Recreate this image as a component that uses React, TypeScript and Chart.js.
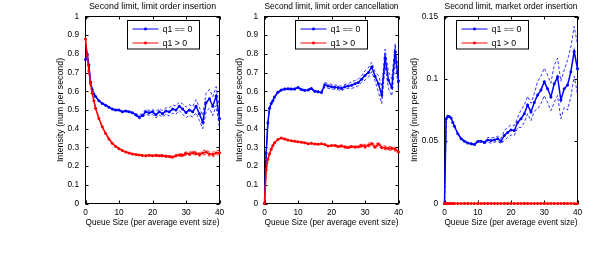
import React, { useEffect, useRef } from "react";
import { Chart, registerables } from "chart.js";

Chart.register(...registerables);

// ---------- data ----------
const QUEUE_SIZE = [0, 0.5, 1, 1.5, 2, 2.5, 3, 4, 5, 6, 7, 8, 9, 10, 11, 12, 13, 14, 15, 16, 17, 18, 19, 20, 21, 22, 23, 24, 25, 26, 27, 28, 29, 30, 31, 32, 33, 34, 35, 36, 37, 38, 39, 40];

const LEGEND_LABELS = ["q1 == 0", "q1 > 0"];

// Panel 1: limit order insertion
const INS_Q1_ZERO = [0.77, 0.80, 0.74, 0.65, 0.61, 0.585, 0.572,
  0.55, 0.535, 0.525, 0.515, 0.505, 0.50, 0.50,
  0.49, 0.495, 0.49, 0.485, 0.475, 0.462, 0.47, 0.49, 0.485, 0.49,
  0.475, 0.49, 0.48, 0.495, 0.49, 0.505, 0.50, 0.52, 0.505, 0.487,
  0.50, 0.49, 0.52, 0.48, 0.435, 0.54, 0.56, 0.52, 0.575, 0.455];
const INS_Q1_ZERO_CI = [0.003, 0.003, 0.003, 0.003, 0.003, 0.003, 0.003,
  0.003, 0.003, 0.003, 0.003, 0.003, 0.003, 0.003,
  0.003, 0.003, 0.003, 0.003, 0.006, 0.01, 0.01, 0.013, 0.013, 0.013,
  0.017, 0.017, 0.017, 0.017, 0.022, 0.022, 0.022, 0.022, 0.028, 0.028,
  0.028, 0.028, 0.035, 0.035, 0.035, 0.05, 0.05, 0.05, 0.05, 0.05];
const INS_Q1_POS = [0.88, 0.79, 0.71, 0.64, 0.59, 0.55, 0.51,
  0.455, 0.41, 0.375, 0.345, 0.322, 0.305, 0.293,
  0.283, 0.276, 0.27, 0.265, 0.262, 0.26, 0.257, 0.256, 0.258, 0.256,
  0.258, 0.255, 0.256, 0.253, 0.252, 0.248, 0.255, 0.26, 0.258, 0.268,
  0.265, 0.272, 0.268, 0.262, 0.27, 0.275, 0.265, 0.262, 0.27, 0.272];
const INS_Q1_POS_CI = [0.002, 0.002, 0.002, 0.002, 0.002, 0.002, 0.002,
  0.002, 0.002, 0.002, 0.002, 0.002, 0.002, 0.002,
  0.002, 0.002, 0.002, 0.002, 0.002, 0.002, 0.002, 0.002, 0.002, 0.002,
  0.005, 0.005, 0.005, 0.005, 0.005, 0.005, 0.005, 0.005, 0.009, 0.009,
  0.009, 0.009, 0.009, 0.009, 0.012, 0.012, 0.012, 0.012, 0.012, 0.012];

// Panel 2: limit order cancellation
const CAN_Q1_ZERO = [0, 0.27, 0.43, 0.51, 0.535, 0.55, 0.57,
  0.595, 0.607, 0.612, 0.613, 0.612, 0.612, 0.62,
  0.61, 0.605, 0.607, 0.615, 0.60, 0.597, 0.594, 0.635, 0.628, 0.625,
  0.622, 0.62, 0.615, 0.625, 0.628, 0.633, 0.64, 0.647, 0.665, 0.685,
  0.70, 0.73, 0.68, 0.64, 0.58, 0.78, 0.66, 0.62, 0.81, 0.655];
const CAN_Q1_ZERO_CI = [0.004, 0.004, 0.004, 0.004, 0.004, 0.004, 0.004,
  0.004, 0.004, 0.004, 0.004, 0.004, 0.004, 0.004,
  0.004, 0.004, 0.004, 0.004, 0.004, 0.004, 0.004, 0.012, 0.012, 0.012,
  0.012, 0.012, 0.012, 0.012, 0.012, 0.018, 0.018, 0.018, 0.018, 0.025,
  0.025, 0.025, 0.025, 0.045, 0.045, 0.045, 0.045, 0.045, 0.045, 0.045];
const CAN_Q1_POS = [0, 0.18, 0.237, 0.265, 0.29, 0.31, 0.325,
  0.342, 0.35, 0.345, 0.34, 0.335, 0.333, 0.33,
  0.328, 0.325, 0.32, 0.322, 0.318, 0.317, 0.32, 0.315, 0.308, 0.31,
  0.31, 0.305, 0.308, 0.302, 0.30, 0.305, 0.302, 0.303, 0.31, 0.305,
  0.312, 0.32, 0.302, 0.318, 0.30, 0.298, 0.294, 0.295, 0.29, 0.276];
const CAN_Q1_POS_CI = [0.002, 0.002, 0.002, 0.002, 0.002, 0.002, 0.002,
  0.002, 0.002, 0.002, 0.002, 0.002, 0.002, 0.002,
  0.002, 0.002, 0.002, 0.002, 0.002, 0.002, 0.002, 0.002, 0.002, 0.002,
  0.005, 0.005, 0.005, 0.005, 0.005, 0.005, 0.005, 0.005, 0.01, 0.01,
  0.01, 0.01, 0.01, 0.01, 0.01, 0.01, 0.01, 0.01, 0.01, 0.01];

// Panel 3: market order insertion
const MKT_Q1_ZERO = [0, 0.068, 0.070, 0.0695, 0.0685, 0.065, 0.062,
  0.056, 0.052, 0.050, 0.0485, 0.048, 0.0473, 0.0497,
  0.050, 0.049, 0.051, 0.0505, 0.051, 0.052, 0.050, 0.0546, 0.057, 0.059,
  0.0586, 0.065, 0.068, 0.072, 0.079, 0.0734, 0.081, 0.087, 0.091, 0.0976,
  0.092, 0.0855, 0.096, 0.1016, 0.083, 0.092, 0.095, 0.1056, 0.122, 0.108];
const MKT_Q1_ZERO_CI = [0.0005, 0.0005, 0.0005, 0.0005, 0.0005, 0.0005, 0.0005,
  0.0005, 0.0005, 0.0005, 0.0005, 0.0005, 0.0005, 0.0005,
  0.0005, 0.0005, 0.002, 0.002, 0.002, 0.002, 0.002, 0.004, 0.004, 0.004,
  0.004, 0.004, 0.007, 0.007, 0.007, 0.007, 0.007, 0.011, 0.011, 0.011,
  0.011, 0.011, 0.015, 0.015, 0.015, 0.015, 0.02, 0.02, 0.02, 0.02];
const MKT_Q1_POS = [0, 0, 0, 0, 0, 0, 0,
  0, 0, 0, 0, 0, 0, 0,
  0, 0, 0, 0, 0, 0, 0, 0, 0, 0,
  0, 0, 0, 0, 0, 0, 0, 0, 0, 0,
  0, 0, 0, 0, 0, 0, 0, 0, 0, 0];
const MKT_Q1_POS_CI = [0, 0, 0, 0, 0, 0, 0,
  0, 0, 0, 0, 0, 0, 0,
  0, 0, 0, 0, 0, 0, 0, 0, 0, 0,
  0, 0, 0, 0, 0, 0, 0, 0, 0, 0,
  0, 0, 0, 0, 0, 0, 0, 0, 0, 0];

const X_TICK_STEP = 10;
const X_MAX = 40;

// ---------- styling / layout ----------
const FONT = "'Liberation Sans', Arial, Helvetica, sans-serif";
const BLUE = "#0000ff";
const RED = "#ff0000";
const W = 615;
const H = 256;
const PLOT_TOP = 16.5;
const PLOT_BOTTOM = 203.5;
const X_AXIS_H = 24.8;

type PanelCfg = {
  title: string;
  yMax: number;
  yStep: number;
  blue: number[];
  blueCi: number[];
  red: number[];
  redCi: number[];
  left: number;
  right: number;
  yAxisW: number;
  legendX: number;
  legendY: number;
};

const PANELS: PanelCfg[] = [
  { title: "Second limit, limit order insertion", yMax: 1, yStep: 0.1,
    blue: INS_Q1_ZERO, blueCi: INS_Q1_ZERO_CI, red: INS_Q1_POS, redCi: INS_Q1_POS_CI,
    left: 85.5, right: 219.5, yAxisW: 30.3, legendX: 127.5, legendY: 20.5 },
  { title: "Second limit, limit order cancellation", yMax: 1, yStep: 0.1,
    blue: CAN_Q1_ZERO, blueCi: CAN_Q1_ZERO_CI, red: CAN_Q1_POS, redCi: CAN_Q1_POS_CI,
    left: 264.5, right: 398.5, yAxisW: 30.3, legendX: 295.5, legendY: 20.5 },
  { title: "Second limit, market order insertion", yMax: 0.15, yStep: 0.05,
    blue: MKT_Q1_ZERO, blueCi: MKT_Q1_ZERO_CI, red: MKT_Q1_POS, redCi: MKT_Q1_POS_CI,
    left: 444.5, right: 577.5, yAxisW: 35.3, legendX: 456.5, legendY: 20.5 },
];

const TICK_LEN = 3;

const matlabAxes = {
  id: "matlabAxes",
  beforeDatasetsDraw(chart: any) {
    const { ctx, chartArea: a, scales } = chart;
    ctx.save();
    ctx.strokeStyle = "#000";
    ctx.lineWidth = 1;
    ctx.strokeRect(a.left, a.top, a.right - a.left, a.bottom - a.top);
    ctx.beginPath();
    for (const t of scales.x.ticks) {
      const p = Math.round(scales.x.getPixelForValue(t.value)) + 0.5;
      ctx.moveTo(p, a.bottom); ctx.lineTo(p, a.bottom - TICK_LEN);
      ctx.moveTo(p, a.top); ctx.lineTo(p, a.top + TICK_LEN);
    }
    for (const t of scales.y.ticks) {
      const p = Math.round(scales.y.getPixelForValue(t.value)) + 0.5;
      ctx.moveTo(a.left, p); ctx.lineTo(a.left + TICK_LEN, p);
      ctx.moveTo(a.right, p); ctx.lineTo(a.right - TICK_LEN, p);
    }
    ctx.stroke();
    ctx.restore();
  },
};

function makeLegendPlugin(cfg: PanelCfg) {
  return {
    id: "matlabLegend",
    afterDraw(chart: any) {
      const { ctx } = chart;
      const x = cfg.legendX, y = cfg.legendY, w = 72, h = 28.5;
      ctx.save();
      ctx.fillStyle = "#fff";
      ctx.fillRect(x, y, w, h);
      ctx.strokeStyle = "#000";
      ctx.lineWidth = 1;
      ctx.strokeRect(x, y, w, h);
      const colors = [BLUE, RED];
      LEGEND_LABELS.forEach((label, i) => {
        const ry = y + 8.5 + i * 14;
        ctx.strokeStyle = colors[i];
        ctx.lineWidth = 1;
        ctx.beginPath();
        ctx.moveTo(x + 5, ry);
        ctx.lineTo(x + 31, ry);
        ctx.stroke();
        ctx.fillStyle = colors[i];
        ctx.beginPath();
        ctx.arc(x + 18, ry, 1.4, 0, Math.PI * 2);
        ctx.fill();
        ctx.fillStyle = "#000";
        ctx.font = `8.8px ${FONT}`;
        ctx.textAlign = "left";
        ctx.textBaseline = "middle";
        ctx.fillText(label, x + 35, ry + 0.5);
      });
      ctx.restore();
    },
  };
}

function series(values: number[], color: string, dashed: boolean, order: number) {
  return {
    data: QUEUE_SIZE.map((x, i) => ({ x, y: values[i] })),
    borderColor: color,
    backgroundColor: color,
    borderWidth: dashed ? 0.8 : 1.5,
    borderDash: dashed ? [3, 2] : [],
    pointRadius: dashed ? 0 : 1.5,
    pointBorderWidth: 0,
    pointHoverRadius: 0,
    tension: 0,
    clip: 6,
    order,
  };
}

function Panel({ cfg }: { cfg: PanelCfg }) {
  const ref = useRef<HTMLCanvasElement>(null);
  useEffect(() => {
    const blueUp = cfg.blue.map((v, i) => v + cfg.blueCi[i]);
    const blueLo = cfg.blue.map((v, i) => v - cfg.blueCi[i]);
    const redUp = cfg.red.map((v, i) => v + cfg.redCi[i]);
    const redLo = cfg.red.map((v, i) => v - cfg.redCi[i]);
    const fmt = (v: any) => String(Math.round(Number(v) * 1000) / 1000);
    const chart = new Chart(ref.current as HTMLCanvasElement, {
      type: "line",
      data: {
        datasets: [
          series(cfg.red, RED, false, 0),
          series(redUp, RED, true, 1),
          series(redLo, RED, true, 1),
          series(cfg.blue, BLUE, false, 2),
          series(blueUp, BLUE, true, 3),
          series(blueLo, BLUE, true, 3),
        ] as any,
      },
      options: {
        animation: false,
        responsive: false,
        events: [],
        layout: {
          padding: {
            left: cfg.left - cfg.yAxisW,
            right: W - cfg.right,
            top: 0,
            bottom: H - PLOT_BOTTOM - X_AXIS_H,
          },
        },
        plugins: {
          legend: { display: false },
          tooltip: { enabled: false },
          title: {
            display: true,
            text: cfg.title,
            fullSize: false,
            color: "#000",
            font: { family: FONT, size: 8.8, weight: "normal" },
            padding: { top: 1.6, bottom: PLOT_TOP - 1.6 - 8.8 * 1.2 },
          },
        },
        scales: {
          x: {
            type: "linear",
            min: 0,
            max: X_MAX,
            grid: { display: false, drawTicks: false },
            border: { display: false },
            ticks: { stepSize: X_TICK_STEP, color: "#000", padding: 4, font: { family: FONT, size: 8.3 } },
            title: {
              display: true,
              text: "Queue Size (per average event size)",
              color: "#000",
              font: { family: FONT, size: 8.8 },
              padding: 0,
            },
            afterFit: (s: any) => { s.height = X_AXIS_H; },
          },
          y: {
            type: "linear",
            min: 0,
            max: cfg.yMax,
            grid: { display: false, drawTicks: false },
            border: { display: false },
            ticks: { stepSize: cfg.yStep, color: "#000", padding: 6.5, autoSkip: false, font: { family: FONT, size: 8.3 }, callback: fmt },
            title: {
              display: true,
              text: "Intensity (num per second)",
              color: "#000",
              font: { family: FONT, size: 8.8 },
              padding: 0,
            },
            afterFit: (s: any) => { s.width = cfg.yAxisW; },
          },
        },
      } as any,
      plugins: [matlabAxes, makeLegendPlugin(cfg)],
    });
    return () => chart.destroy();
  }, [cfg]);
  return (
    <canvas
      ref={ref}
      width={W}
      height={H}
      style={{ position: "absolute", left: 0, top: 0, width: W, height: H }}
    />
  );
}

export default function App() {
  return (
    <div style={{ position: "absolute", left: 0, top: 0, width: W, height: H, background: "#fff" }}>
      {PANELS.map((p, i) => (
        <Panel key={i} cfg={p} />
      ))}
    </div>
  );
}
